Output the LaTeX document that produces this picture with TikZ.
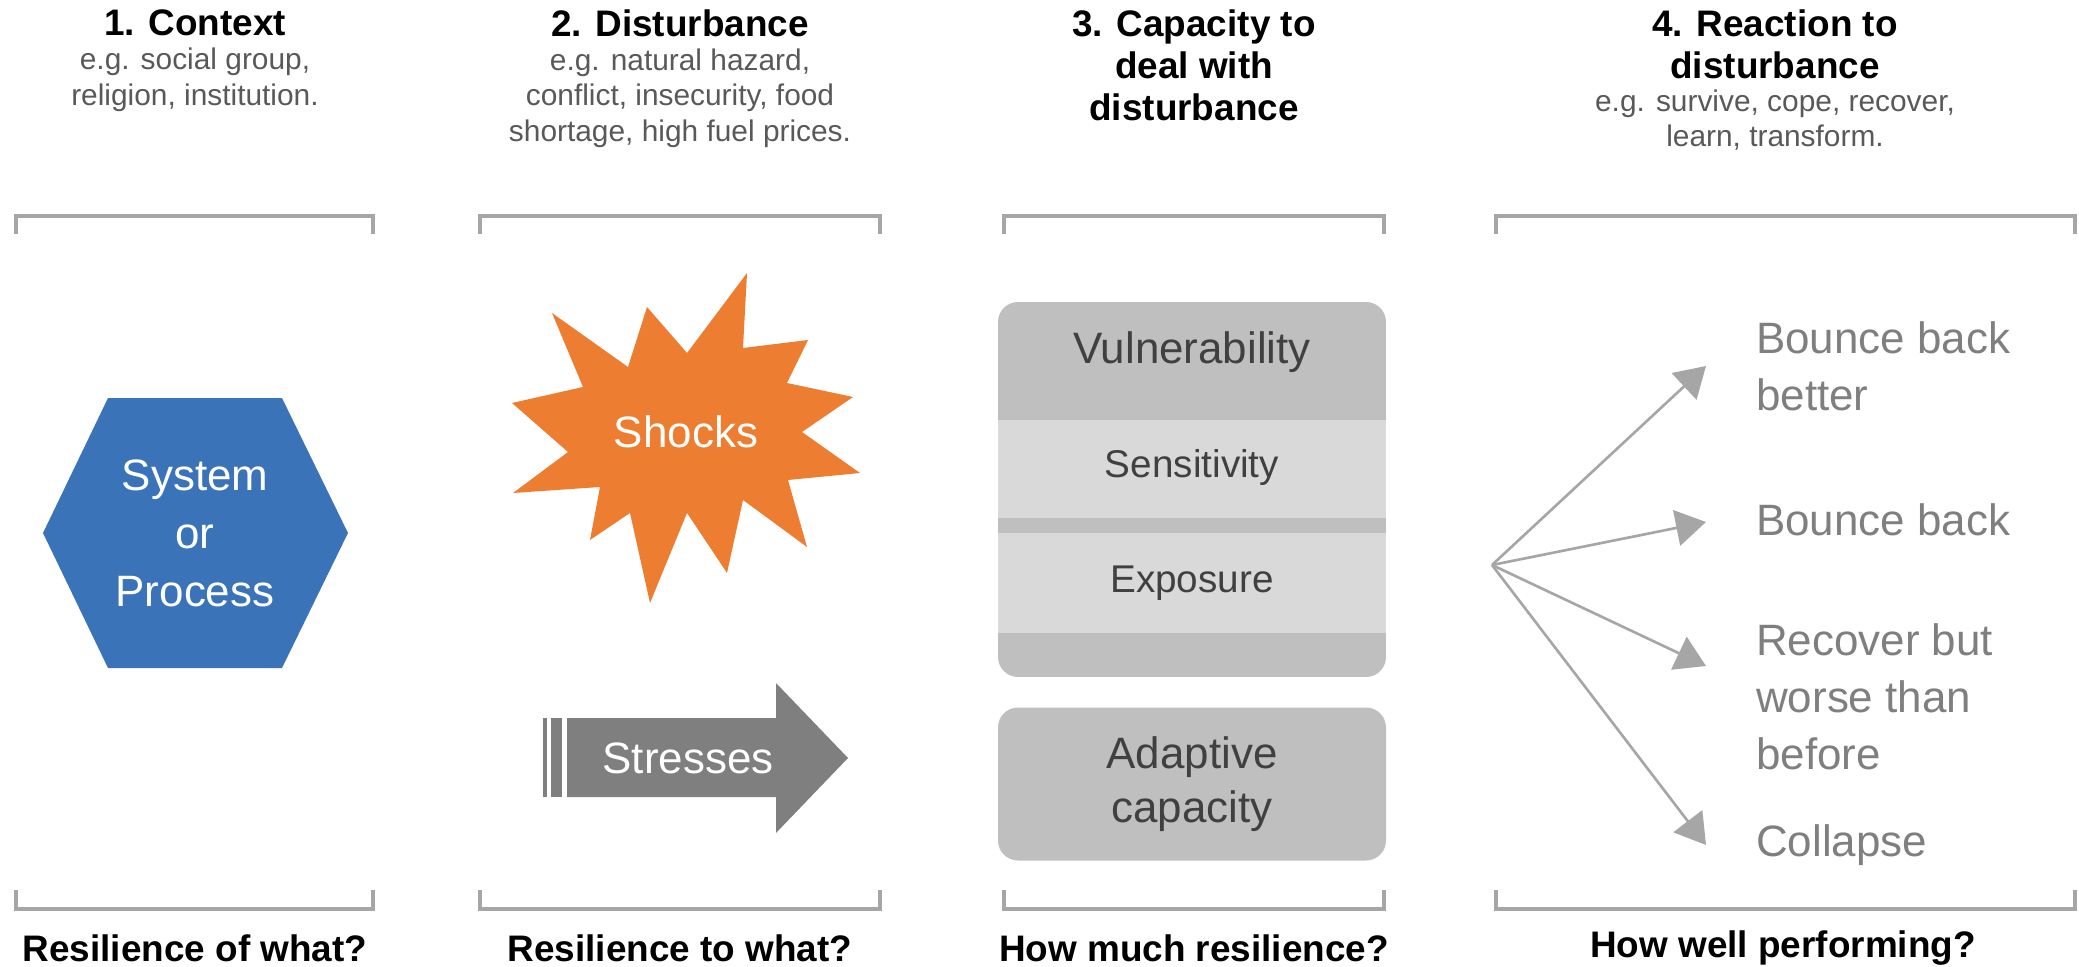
\documentclass[tikz,border=0pt]{standalone}
\usepackage{fontspec}
\setmainfont{Liberation Sans}
\usetikzlibrary{arrows.meta}

\definecolor{hexblue}{HTML}{3B73B9}
\definecolor{shockorange}{HTML}{ED7D31}
\definecolor{stressgray}{HTML}{7F7F7F}
\definecolor{banddark}{HTML}{BFBFBF}
\definecolor{bandlight}{HTML}{D9D9D9}
\definecolor{linegray}{HTML}{A6A6A6}
\definecolor{subgray}{HTML}{595959}
\definecolor{outgray}{HTML}{7F7F7F}
\definecolor{boxtext}{HTML}{404040}

\tikzset{
  heading/.style={font=\fontsize{21}{24}\selectfont\bfseries, align=center},
  example/.style={font=\fontsize{17}{20.3}\selectfont, text=subgray, align=center},
  question/.style={font=\fontsize{21}{24}\selectfont\bfseries},
  bracket/.style={draw=linegray, line width=2pt},
  inside/.style={text=white, align=center, font=\fontsize{25}{33}\selectfont},
  layer/.style={text=boxtext, font=\fontsize{22}{26}\selectfont},
  outcome/.style={anchor=west, align=left, text=outgray, font=\fontsize{25}{32.3}\selectfont},
  fan/.style={draw=linegray, line width=1.5pt, -{Triangle[length=6mm,width=7.2mm]}},
}

\begin{document}
\begin{tikzpicture}[x=0.2mm, y=-0.2mm]
  \useasboundingbox (0,0) rectangle (2079,967);

  % Headings
  \node[heading] (h1) at (195,23) {1. Context};
  \node[example] (e1) at (195,80) {e.g. social group,\\religion, institution.};
  \node[heading] (h2) at (680,23) {2. Disturbance};
  \node[example] (e2) at (680,98) {e.g. natural hazard,\\conflict, insecurity, food\\shortage, high fuel prices.};
  \node[heading] (h3) at (1194,65) {3. Capacity to\\deal with\\disturbance};
  \node[heading] (h4) at (1775,44) {4. Reaction to\\disturbance};
  \node[example] (e4) at (1775,120) {e.g. survive, cope, recover,\\learn, transform.};

  % Brackets
  \foreach \l/\r in {16/373, 480/880, 1004/1384, 1496/2075}{
    \draw[bracket] (\l,234) -- (\l,216) -- (\r,216) -- (\r,234);
    \draw[bracket] (\l,890) -- (\l,909) -- (\r,909) -- (\r,890);
  }

  % Questions
  \node[question] (q1) at (195,948) {Resilience of what?};
  \node[question] (q2) at (680,948) {Resilience to what?};
  \node[question] (q3) at (1194,948) {How much resilience?};
  \node[question] (q4) at (1783,948) {How well performing?};

  % System or process
  \fill[hexblue] (43,533) -- (108,398) -- (282,398) -- (348,533) -- (282,668) -- (108,668) -- cycle;
  \node[inside] (sys) at (195,533) {System\\or\\Process};

  % Shocks
  \fill[shockorange] (747,273) -- (743,348) -- (808,340) -- (787,383) -- (853,397) -- (802,432)
    -- (860,473) -- (788,480) -- (807,547) -- (743,500) -- (727,573) -- (687,513)
    -- (650,603) -- (630,513) -- (590,540) -- (600,487) -- (513,493) -- (568,452)
    -- (512,403) -- (583,387) -- (552,313) -- (628,367) -- (647,307) -- (687,353) -- cycle;
  \node[inside] (shock) at (686,432) {Shocks};

  % Stresses
  \fill[stressgray] (543,718) rectangle (547,797);
  \fill[stressgray] (551,718) rectangle (562,797);
  \fill[stressgray] (567,718) -- (776,718) -- (776,683) -- (848,758) -- (776,833) -- (776,797) -- (567,797) -- cycle;
  \node[inside] (stress) at (688,758) {Stresses};

  % Vulnerability
  \begin{scope}
    \clip[rounded corners=4mm] (998,302) rectangle (1386,677);
    \fill[banddark] (998,302) rectangle (1386,677);
    \fill[bandlight] (998,420) rectangle (1386,518);
    \fill[bandlight] (998,533) rectangle (1386,633);
  \end{scope}
  \node[layer, font=\fontsize{25}{30}\selectfont] (vul) at (1192,352) {Vulnerability};
  \node[layer] (sens) at (1192,468) {Sensitivity};
  \node[layer] (expo) at (1192,583) {Exposure};
  \node[fill=banddark, rounded corners=4mm, minimum width=77.6mm, minimum height=30.6mm, inner sep=0pt,
    text=boxtext, align=center, font=\fontsize{25}{31}\selectfont] (adapt) at (1192,784) {Adaptive\\capacity};

  % Reactions
  \coordinate (src) at (1492,565);
  \foreach \n/\y in {1/366, 2/522, 3/666, 4/845}{
    \coordinate (t\n) at (1706,\y);
    \draw[fan] (src) -- (t\n);
  }
  \node[outcome] (o1) at (1750,366) {Bounce back\\better};
  \node[outcome] (o2) at (1750,520) {Bounce back};
  \node[outcome] (o3) at (1750,697) {Recover but\\worse than\\before};
  \node[outcome] (o4) at (1750,845) {Collapse};
\end{tikzpicture}
\end{document}
